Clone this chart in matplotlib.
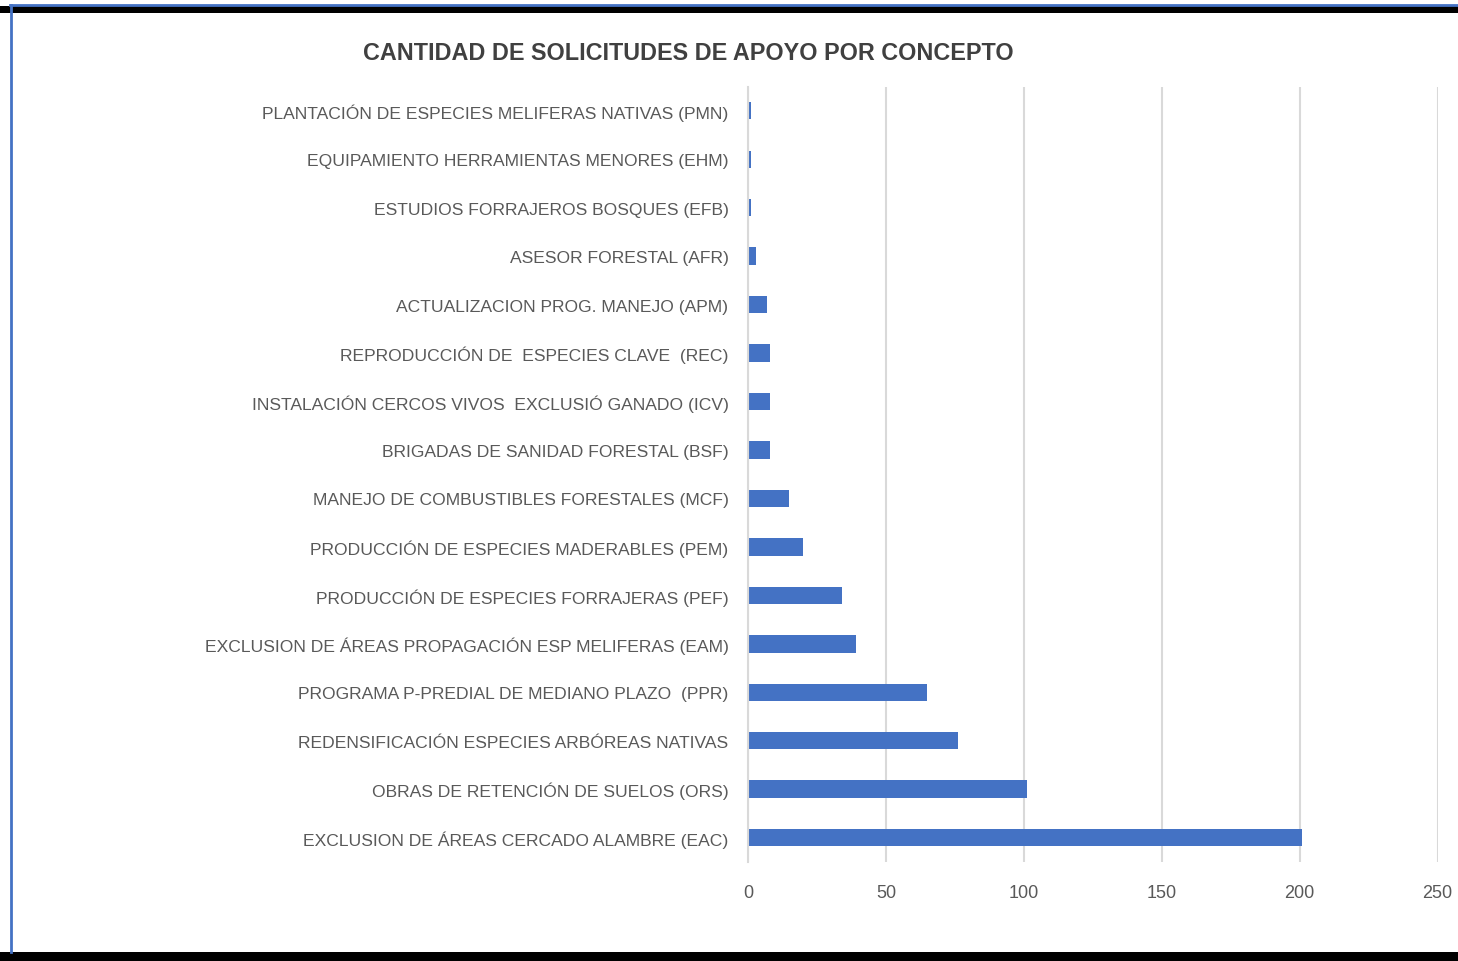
import matplotlib.pyplot as plt
from matplotlib.lines import Line2D
from matplotlib.patches import Rectangle

conceptos = [
    "PLANTACIÓN DE ESPECIES MELIFERAS NATIVAS (PMN)",
    "EQUIPAMIENTO HERRAMIENTAS MENORES (EHM)",
    "ESTUDIOS FORRAJEROS BOSQUES (EFB)",
    "ASESOR FORESTAL (AFR)",
    "ACTUALIZACION PROG. MANEJO (APM)",
    "REPRODUCCIÓN DE  ESPECIES CLAVE  (REC)",
    "INSTALACIÓN CERCOS VIVOS  EXCLUSIÓ GANADO (ICV)",
    "BRIGADAS DE SANIDAD FORESTAL (BSF)",
    "MANEJO DE COMBUSTIBLES FORESTALES (MCF)",
    "PRODUCCIÓN DE ESPECIES MADERABLES (PEM)",
    "PRODUCCIÓN DE ESPECIES FORRAJERAS (PEF)",
    "EXCLUSION DE ÁREAS PROPAGACIÓN ESP MELIFERAS (EAM)",
    "PROGRAMA P-PREDIAL DE MEDIANO PLAZO  (PPR)",
    "REDENSIFICACIÓN ESPECIES ARBÓREAS NATIVAS",
    "OBRAS DE RETENCIÓN DE SUELOS (ORS)",
    "EXCLUSION DE ÁREAS CERCADO ALAMBRE (EAC)",
]
solicitudes = [1, 1, 1, 3, 7, 8, 8, 8, 15, 20, 34, 39, 65, 76, 101, 201]
x_ticks = [0, 50, 100, 150, 200, 250]

plt.rcParams['font.family'] = ['Liberation Sans', 'DejaVu Sans']

fig = plt.figure(figsize=(14.58, 9.62), dpi=100)
ax = fig.add_axes([0.513, 0.103, 0.473, 0.806])

# first category at top
pos = list(range(len(conceptos)))[::-1]
ax.barh(pos, solicitudes, height=0.36, color='#4472c4')
ax.set_yticks(pos)
ax.set_yticklabels(conceptos, fontsize=12.6, color='#595959')
ax.set_ylim(-0.5, len(conceptos) - 0.5)
ax.set_xlim(0, 250)
ax.set_xticks(x_ticks)
ax.set_xticklabels([str(t) for t in x_ticks], fontsize=13, color='#595959')
ax.tick_params(axis='y', length=0, pad=14)
ax.tick_params(axis='x', length=0, pad=16)
ax.grid(axis='x', color='#d9d9d9', linewidth=1.5)
ax.set_axisbelow(True)
for s in ['top', 'right', 'bottom']:
    ax.spines[s].set_visible(False)
ax.spines['left'].set_color('#d9d9d9')
ax.spines['left'].set_linewidth(1.5)

fig.text(0.472, 0.944, "CANTIDAD DE SOLICITUDES DE APOYO POR CONCEPTO",
         ha='center', va='center', fontsize=16.8, fontweight='bold', color='#404040')

# frame of the screenshot
fig.add_artist(Rectangle((0, 1 - 14 / 962), 1, 7 / 962, transform=fig.transFigure,
                         color='black', lw=0))
fig.add_artist(Rectangle((0, 0), 1, 9 / 962, transform=fig.transFigure,
                         color='black', lw=0))
fig.add_artist(Line2D([10 / 1458, 1], [1 - 6 / 962, 1 - 6 / 962],
                      transform=fig.transFigure, color='#4472c4', lw=2))
fig.add_artist(Line2D([11 / 1458, 11 / 1458], [9 / 962, 1 - 6 / 962],
                      transform=fig.transFigure, color='#4472c4', lw=2))

fig.savefig('out.png', dpi=100)
